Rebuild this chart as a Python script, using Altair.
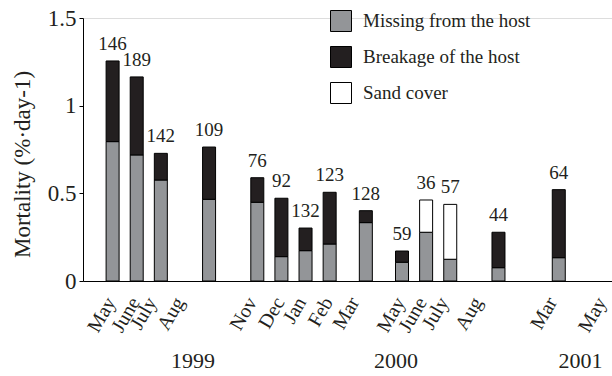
import altair as alt
import pandas as pd

# Sampling periods (bar positions on a month-step axis, May 1999 = 0)
periods = ["May 99", "Jun 99", "Jul 99", "Sep 99", "Nov 99", "Dec 99", "Jan 00",
           "Feb 00", "Mar 00", "May 00", "Jun 00", "Jul 00", "Sep 00", "Mar 01"]
period_pos = [0, 1, 2, 4, 6, 7, 8, 9, 10.5, 12, 13, 14, 16, 18.5]

# Mortality components (% per day)
missing = [0.795, 0.719, 0.576, 0.466, 0.449, 0.139, 0.173, 0.211, 0.333, 0.107, 0.278, 0.124, 0.076, 0.133]
breakage = [0.460, 0.445, 0.152, 0.298, 0.140, 0.333, 0.129, 0.295, 0.068, 0.064, 0.0, 0.0, 0.202, 0.388]
sand = [0, 0, 0, 0, 0, 0, 0, 0, 0, 0, 0.184, 0.313, 0, 0]
counts = [146, 189, 142, 109, 76, 92, 132, 123, 128, 59, 36, 57, 44, 64]

# Month labels along the time axis
tick_names = ["May", "June", "July", "Aug", "Nov", "Dec", "Jan", "Feb", "Mar",
              "May", "June", "July", "Aug", "Mar", "May"]
tick_pos = [-0.42, 0.58, 1.28, 2.43, 5.43, 6.58, 7.48, 8.58, 9.68,
            11.58, 12.48, 13.38, 14.78, 17.88, 19.93]

years = ["1999", "2000", "2001"]
year_pos = [3.33, 11.75, 19.4]

causes = ["Missing from the host", "Breakage of the host", "Sand cover"]
cause_colors = ["#939598", "#231f20", "#ffffff"]

rows = []
for i, p in enumerate(periods):
    for k, (cause, vals) in enumerate(zip(causes, [missing, breakage, sand])):
        if vals[i] > 0:
            rows.append({"period": p, "pos": period_pos[i], "cause": cause,
                         "order": k, "value": vals[i]})
bars_df = pd.DataFrame(rows)

totals_df = pd.DataFrame({
    "pos": period_pos,
    "total": [m + b + s for m, b, s in zip(missing, breakage, sand)],
    "n": counts,
})
months_df = pd.DataFrame({"pos": tick_pos, "month": tick_names})
years_df = pd.DataFrame({"pos": year_pos, "year": years})

FONT = "Liberation Serif, Times New Roman, serif"
INK = "#231f20"

x_scale = alt.Scale(domain=[-1.02, 20.5], nice=False, zero=False)
y_scale = alt.Scale(domain=[0, 1.5], nice=False)

bars = alt.Chart(bars_df).mark_bar(size=13, stroke="black", strokeWidth=1).encode(
    x=alt.X("pos:Q", scale=x_scale, axis=alt.Axis(
        labels=False, ticks=False, title=None, grid=False, domainColor="black")),
    y=alt.Y("value:Q", stack="zero", scale=y_scale, axis=alt.Axis(
        values=[0, 0.5, 1, 1.5], labelExpr="datum.value == 0 ? '0' : format(datum.value, '.1~f')",
        title="Mortality (%·day-1)", titleFont=FONT, titleFontSize=23, titleFontWeight="normal",
        titleColor=INK, titleX=-61, titleY=146, titleAngle=-90, titleAlign="center",
        titleBaseline="middle", grid=False, tickSize=4, tickColor="black",
        domainColor="black", labelFont=FONT, labelFontSize=23, labelColor=INK, labelPadding=3)),
    color=alt.Color("cause:N", scale=alt.Scale(domain=causes, range=cause_colors),
                    legend=alt.Legend(
                        title=None, orient="none", legendX=247, legendY=-8,
                        symbolType="square", symbolSize=441, symbolStrokeColor="black",
                        symbolStrokeWidth=1, symbolOpacity=1, rowPadding=10,
                        labelOffset=11, labelFont=FONT, labelFontSize=19, labelLimit=300,
                        labelColor=INK, padding=0)),
    order=alt.Order("order:Q"),
)

numbers = alt.Chart(totals_df).mark_text(
    font=FONT, fontSize=19, color=INK, baseline="alphabetic", dy=-11
).encode(x=alt.X("pos:Q", scale=x_scale), y=alt.Y("total:Q", scale=y_scale), text="n:Q")

month_text = alt.Chart(months_df).mark_text(
    font=FONT, fontSize=20, color=INK, angle=300, align="right", baseline="top"
).encode(x=alt.X("pos:Q", scale=x_scale), y=alt.value(276), text="month:N")

year_text = alt.Chart(years_df).mark_text(
    font=FONT, fontSize=22, color=INK, baseline="middle"
).encode(x=alt.X("pos:Q", scale=x_scale), y=alt.value(343), text="year:N")

chart = alt.layer(bars, numbers, month_text, year_text).properties(
    width=529, height=263,
    autosize=alt.AutoSizeParams(type="none"),
    padding={"left": 83, "top": 18, "right": 0, "bottom": 95},
).configure_view(stroke=None).configure(background="white")

chart.save("out.html", embed_options={"renderer": "svg", "actions": False})
